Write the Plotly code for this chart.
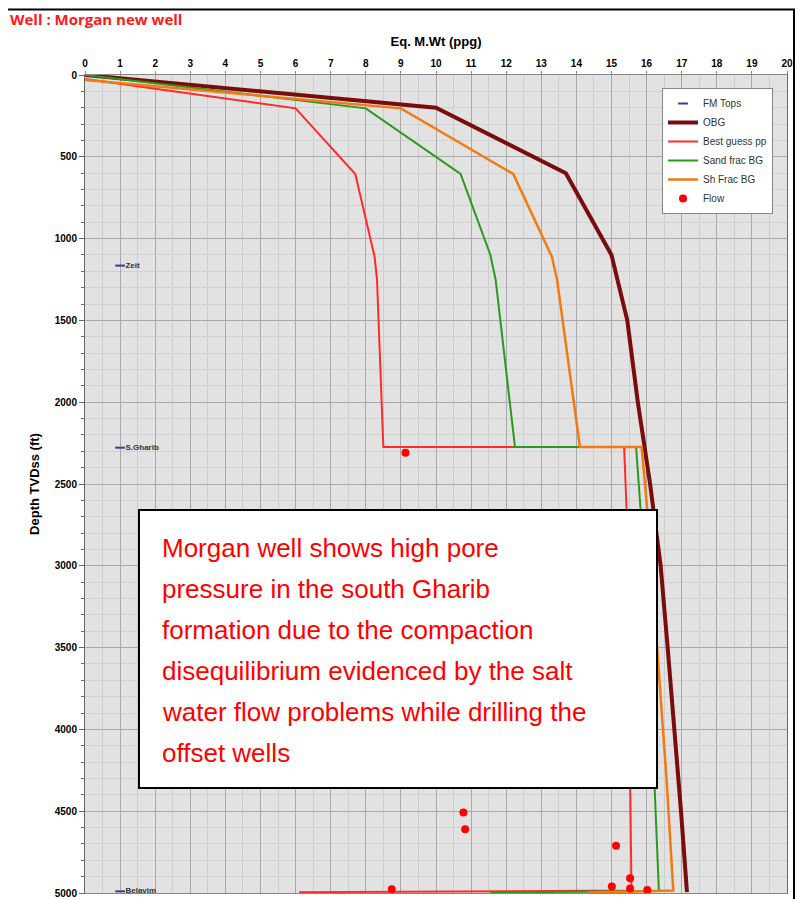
import plotly.graph_objects as go

# ---- data ----
obg_x = [0, 10.0, 13.7, 15.0, 15.45, 15.75, 16.1, 16.4, 16.6, 16.8, 16.98, 17.15]
obg_y = [0, 200, 600, 1100, 1500, 2000, 2500, 3000, 3500, 4000, 4500, 4995]

pp_x = [0, 6.0, 7.7, 8.25, 8.32, 8.5, 15.36, 15.43, 15.53, 15.57, 6.1]
pp_y = [25, 204, 605, 1110, 1253, 2274, 2274, 2660, 4310, 4985, 4995]

sand_x = [0, 8.0, 10.7, 11.55, 11.7, 12.25, 15.7, 15.83, 16.22, 16.35, 11.54]
sand_y = [0, 204, 605, 1100, 1253, 2274, 2274, 2660, 4310, 4988, 4997]

sh_x = [0, 9.0, 12.2, 13.3, 13.45, 14.1, 15.86, 16.02, 16.57, 16.76, 14.34]
sh_y = [30, 204, 605, 1110, 1253, 2274, 2274, 2660, 4310, 4985, 4997]

flow_x = [9.13, 10.78, 10.83, 15.13, 15.53, 15.01, 15.53, 16.02, 8.74]
flow_y = [2309, 4508, 4611, 4711, 4910, 4961, 4973, 4982, 4977]

fm_names = ["Zeit", "S.Gharib", "Belayim"]
fm_x = [1.0, 1.0, 1.0]
fm_y = [1165, 2278, 4990]

x_ticks = list(range(0, 21))
y_ticks = list(range(0, 5001, 500))

note_lines = [
    "Morgan well shows high pore",
    "pressure in the south Gharib",
    "formation due to the compaction",
    "disequilibrium evidenced by the salt",
    "water flow problems while drilling the",
    "offset wells",
]

# ---- figure ----
fig = go.Figure()

fig.add_trace(go.Scatter(
    x=fm_x, y=fm_y, mode="markers+text", name="FM Tops",
    text=["<b>" + n + "</b>" for n in fm_names], textposition="middle right",
    textfont=dict(family="Liberation Sans", size=8, color="#333333"),
    marker=dict(symbol="line-ew", size=7, line=dict(width=2, color="#3a3a9a"), color="#3a3a9a"),
))
fig.add_trace(go.Scatter(x=obg_x, y=obg_y, mode="lines", name="OBG",
                         line=dict(color="#7b0c0c", width=4)))
fig.add_trace(go.Scatter(x=pp_x, y=pp_y, mode="lines", name="Best guess pp",
                         line=dict(color="#ff2a2a", width=2)))
fig.add_trace(go.Scatter(x=sand_x, y=sand_y, mode="lines", name="Sand frac BG",
                         line=dict(color="#2a9a1e", width=2)))
fig.add_trace(go.Scatter(x=sh_x, y=sh_y, mode="lines", name="Sh Frac BG",
                         line=dict(color="#f27a12", width=2.5)))
fig.add_trace(go.Scatter(x=flow_x, y=flow_y, mode="markers", name="Flow",
                         marker=dict(color="#ff0000", size=8)))

# screen-pixel -> paper helpers (plot area spans screen x 85..787, y 75..893)
def py(p):
    return (893 - p) / 818.0

def px(p):
    return (p - 85) / 702.0

shapes = [
    # note box
    dict(type="rect", xref="paper", yref="paper",
         x0=px(139), x1=px(657), y0=py(788), y1=py(510),
         fillcolor="white", line=dict(color="black", width=2), layer="above"),
    # outer frame lines (top and right)
    dict(type="line", xref="paper", yref="paper",
         x0=px(8), x1=px(795), y0=py(9.5), y1=py(9.5),
         line=dict(color="black", width=2), layer="above"),
    dict(type="line", xref="paper", yref="paper",
         x0=px(794), x1=px(794), y0=py(9.5), y1=py(899),
         line=dict(color="black", width=2), layer="above"),
]

annotations = [
    dict(text="<b>Well : Morgan new well</b>", xref="paper", yref="paper",
         x=px(8), y=py(19), xanchor="left", yanchor="middle", showarrow=False,
         font=dict(family="Open Sans", size=15, color="#ff1a1a")),
]
for i, line in enumerate(note_lines):
    annotations.append(dict(
        text=line, xref="paper", yref="paper",
        x=px(160), y=py(548 + 41 * i), xanchor="left", yanchor="middle",
        showarrow=False,
        font=dict(family="Liberation Sans", size=26, color="#ff0000")))

fig.update_layout(
    width=803, height=899,
    margin=dict(l=77, r=24, t=67, b=14),
    paper_bgcolor="white",
    plot_bgcolor="#e2e2e2",
    font=dict(family="Liberation Sans", color="black"),
    shapes=shapes,
    annotations=annotations,
    legend=dict(
        x=px(662), y=py(88), xanchor="left", yanchor="top",
        bgcolor="white", bordercolor="#888888", borderwidth=1,
        font=dict(family="Liberation Sans", size=10, color="#333333"),
        itemwidth=30, tracegroupgap=0,
    ),
)

fig.update_xaxes(
    side="top", range=[0, 20], tickvals=x_ticks,
    ticktext=["<b>%d</b>" % t for t in x_ticks],
    tickfont=dict(size=10, family="Liberation Sans"),
    showgrid=True, gridcolor="#a9a9a9", gridwidth=1,
    minor=dict(dtick=0.5, showgrid=True, gridcolor="#cdcdcd", gridwidth=1),
    zeroline=False, showline=True, linecolor="#888888", mirror=True,
    ticks="outside", ticklen=3, tickcolor="#888888", automargin=False,
    title=dict(text="<b>Eq. M.Wt (ppg)</b>", font=dict(size=13), standoff=8),
)
fig.update_yaxes(
    range=[5000, 0], tickvals=y_ticks,
    ticktext=["<b>%d</b>" % t for t in y_ticks],
    tickfont=dict(size=10, family="Liberation Sans"),
    showgrid=True, gridcolor="#a9a9a9", gridwidth=1,
    minor=dict(dtick=100, showgrid=True, gridcolor="#d2d2d2", gridwidth=1,
               ticks="outside", ticklen=3, tickcolor="#666666"),
    zeroline=False, showline=True, linecolor="#666666", mirror=True,
    ticks="outside", ticklen=5, tickcolor="#666666", automargin=False,
    title=dict(text="<b>Depth TVDss (ft)</b>", font=dict(size=13), standoff=12),
)

fig.write_html("out.html")
